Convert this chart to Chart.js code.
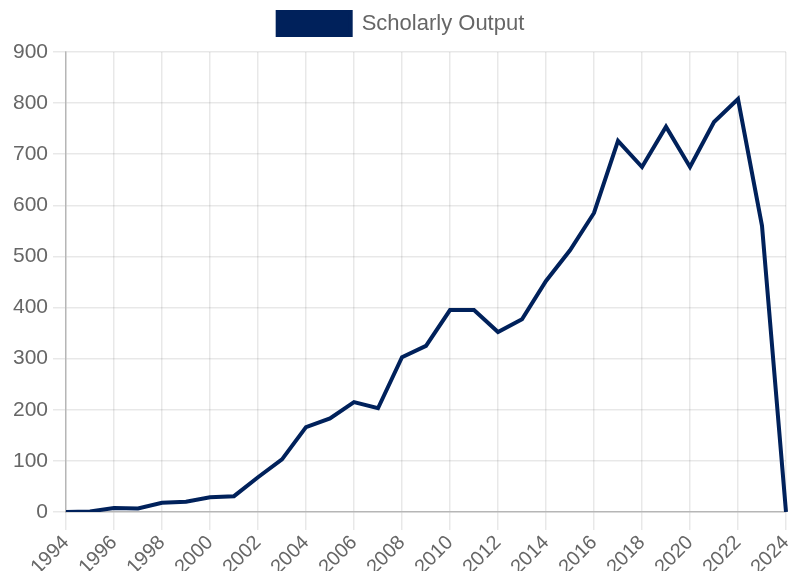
<!DOCTYPE html>
<html>
<head>
<meta charset="utf-8">
<script src="https://cdn.jsdelivr.net/npm/chart.js@4/dist/chart.umd.min.js"></script>
<style>
html,body{margin:0;padding:0;background:#fff;}
#wrap{width:790px;height:571px;}
</style>
</head>
<body>
<div id="wrap"><canvas id="c"></canvas></div>
<script>
const years = ['1994','1995','1996','1997','1998','1999','2000','2001','2002','2003','2004','2005','2006','2007','2008','2009','2010','2011','2012','2013','2014','2015','2016','2017','2018','2019','2020','2021','2022','2023','2024'];
const scholarlyOutput = [0,1,8,7,18,20,29,31,68,103,166,183,215,203,303,325,395,395,352,377,452,512,585,726,675,754,675,763,808,560,0];
const seriesLabel = 'Scholarly Output';
const yTicks = {min:0, max:900, step:100};

Chart.defaults.font.family = '"Liberation Sans", Arial, sans-serif';
Chart.defaults.color = '#666';

const legendFix = {
  id: 'legendFix',
  beforeLayout(chart) {
    const lg = chart.legend;
    if (lg && !lg._hfix) {
      const f = lg.fit;
      lg.fit = function () { f.call(this); this.height = 52; };
      lg._hfix = true;
    }
  },
  afterLayout(chart) {
    const lg = chart.legend;
    if (lg) { lg.left += 8; lg.right += 8; }
  }
};

new Chart(document.getElementById('c'), {
  type: 'line',
  data: {
    labels: years,
    datasets: [{
      label: seriesLabel,
      data: scholarlyOutput,
      borderColor: '#00215b',
      backgroundColor: '#00215b',
      borderWidth: 4,
      pointRadius: 0,
      tension: 0,
      fill: false
    }]
  },
  plugins: [legendFix],
  options: {
    responsive: true,
    maintainAspectRatio: false,
    animation: false,
    layout: {padding: {right: 4, top: 0, bottom: 0, left: 0}},
    plugins: {
      legend: {
        display: true,
        position: 'top',
        labels: {boxWidth: 73, boxHeight: 23, font: {size: 22}, color: '#666', padding: 12}
      },
      tooltip: {enabled: false}
    },
    scales: {
      x: {
        grid: {color: 'rgba(0,0,0,0.09)', tickLength: 18, lineWidth: 1.5},
        border: {color: 'rgba(0,0,0,0.22)', width: 1.5},
        ticks: {autoSkip: true, maxTicksLimit: 16, minRotation: 45, maxRotation: 45, font: {size: 20}, color: '#666', padding: 1},
        afterFit: (s) => { s.paddingRight = 0; s.paddingLeft = 0; s.height = 59; }
      },
      y: {
        min: yTicks.min, max: yTicks.max,
        grid: {color: 'rgba(0,0,0,0.09)', tickLength: 13, lineWidth: 1.5},
        border: {color: 'rgba(0,0,0,0.22)', width: 1.5},
        ticks: {stepSize: yTicks.step, font: {size: 21}, color: '#666', padding: 5},
        afterFit: (s) => { s.width = 66; }
      }
    }
  }
});
</script>
</body>
</html>
